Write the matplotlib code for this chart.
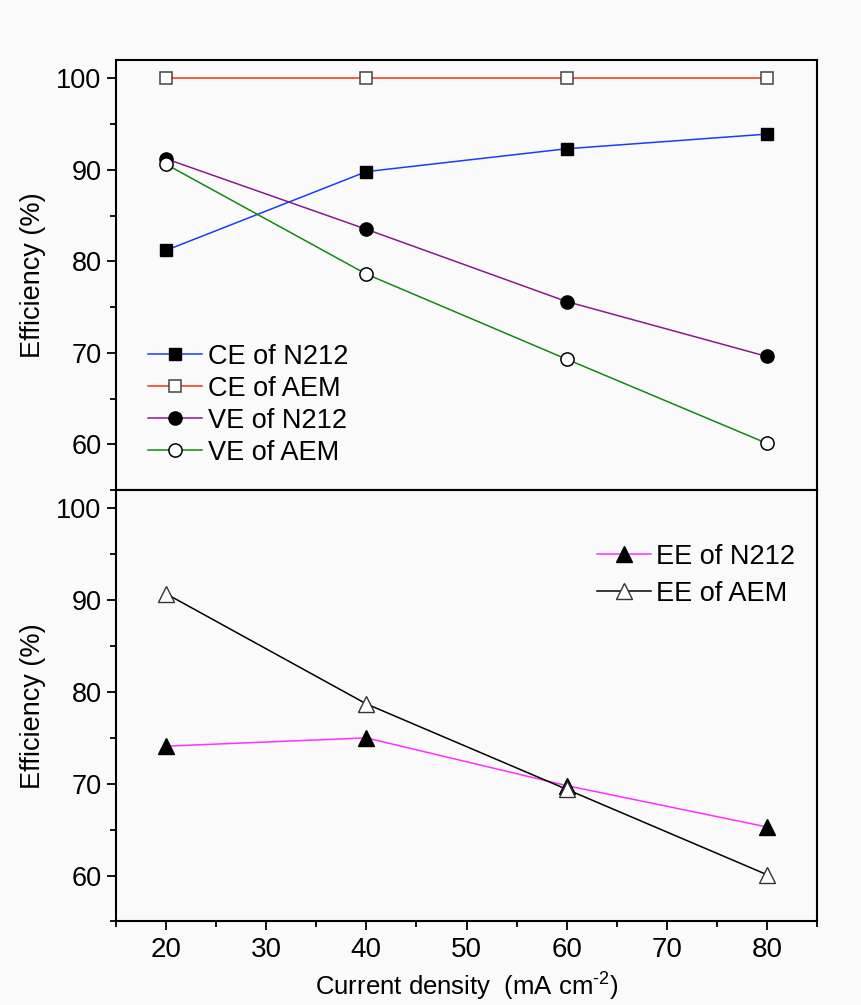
import numpy as np
import matplotlib
matplotlib.use("Agg")
import matplotlib.pyplot as plt
from matplotlib.ticker import MultipleLocator

plt.rcParams['font.family'] = ['Liberation Sans', 'DejaVu Sans']
plt.rcParams['mathtext.fontset'] = 'custom'
plt.rcParams['mathtext.rm'] = 'Liberation Sans'
plt.rcParams['mathtext.it'] = 'Liberation Sans:italic'

# data
current_density = [20, 40, 60, 80]
ce_n212 = [81.2, 89.8, 92.3, 93.9]
ce_aem = [100.0, 100.0, 100.0, 100.0]
ve_n212 = [91.2, 83.5, 75.6, 69.6]
ve_aem = [90.6, 78.6, 69.3, 60.1]
ee_n212 = [74.1, 75.0, 69.8, 65.3]
ee_aem = [90.7, 78.7, 69.4, 60.1]

bg = '#fafafa'
fig = plt.figure(figsize=(8.62, 10.05), dpi=100, facecolor=bg)
ax1 = fig.add_axes([0.1346, 0.5124, 0.8132, 0.4279], facecolor=bg)
ax2 = fig.add_axes([0.1346, 0.0831, 0.8132, 0.4293], facecolor=bg)

lw = 1.1
ms = 9
ax1.plot(current_density, ce_n212, color='#1a3cff', lw=lw, marker='s', ms=ms,
         mfc='black', mec='black', label='CE of N212')
ax1.plot(current_density, ce_aem, color='#ff3010', lw=lw, marker='s', ms=ms,
         mfc='white', mec='#444444', mew=1.1, label='CE of AEM')
ax1.plot(current_density, ve_n212, color='#8a1a8a', lw=lw, marker='o', ms=ms + 0.5,
         mfc='black', mec='black', label='VE of N212')
ax1.plot(current_density, ve_aem, color='#108a10', lw=lw, marker='o', ms=ms + 0.5,
         mfc='white', mec='black', mew=1.1, label='VE of AEM')

ax2.plot(current_density, ee_n212, color='#ff30ff', lw=lw, marker='^', ms=11.5,
         mfc='black', mec='black', label='EE of N212')
ax2.plot(current_density, ee_aem, color='black', lw=lw, marker='^', ms=11.5,
         mfc='white', mec='#333333', mew=1.0, label='EE of AEM')

for ax in (ax1, ax2):
    ax.set_xlim(15, 85)
    ax.set_ylim(55, 102)
    ax.xaxis.set_major_locator(MultipleLocator(10))
    ax.xaxis.set_minor_locator(MultipleLocator(5))
    ax.yaxis.set_major_locator(MultipleLocator(10))
    ax.yaxis.set_minor_locator(MultipleLocator(5))
    ax.tick_params(which='both', direction='out', top=False, right=False, width=1.3)
    ax.tick_params(which='major', length=6.5)
    ax.tick_params(which='minor', length=4.5)
    ax.tick_params(axis='y', labelsize=19.5, pad=4)
    ax.tick_params(axis='x', labelsize=20, pad=5)
    for s in ax.spines.values():
        s.set_linewidth(1.5)
    ax.set_ylabel('Efficiency (%)', fontsize=19.5, labelpad=7)

ax1.tick_params(axis='x', labelbottom=False)
ax2.set_xlabel('Current density  (mA cm$^{\u20102}$)', fontsize=18.5, labelpad=5)

ax1.legend(loc='upper left', bbox_to_anchor=(0.046, 0.34), frameon=False,
           fontsize=19.5, handlelength=2.0, handletextpad=0.2, labelspacing=0.22,
           borderpad=0, borderaxespad=0)
ax2.legend(loc='upper left', bbox_to_anchor=(0.686, 0.875), frameon=False,
           fontsize=19.5, handlelength=2.0, handletextpad=0.2, labelspacing=0.4,
           borderpad=0, borderaxespad=0)

fig.savefig('out.png', dpi=100, facecolor=bg)
